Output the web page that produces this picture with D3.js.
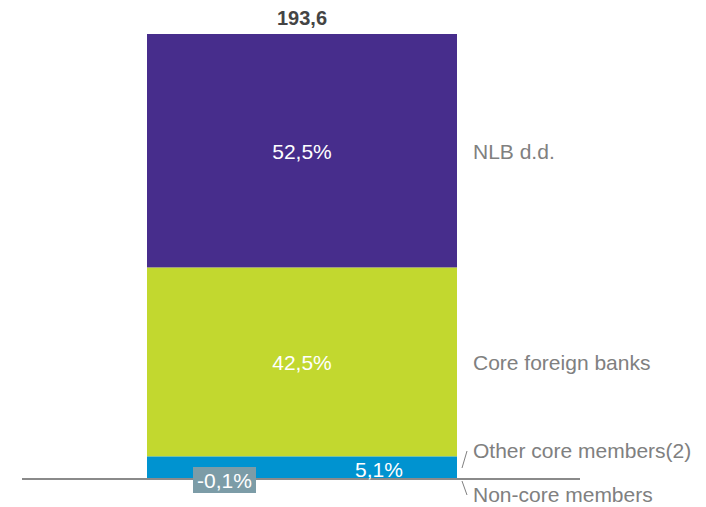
<!DOCTYPE html>
<html>
<head>
<meta charset="utf-8">
<script src="https://cdn.jsdelivr.net/npm/d3@7"></script>
<style>
  body { margin: 0; background: #fff; }
  text { font-family: "Liberation Sans", Arial, sans-serif; }
</style>
</head>
<body>
<svg id="chart"></svg>
<script>
var width = 706,
    height = 507;

// data
var total = "193,6";
var segments = ["Non-core members", "Other core members(2)", "Core foreign banks", "NLB d.d."];
var shares = [-0.1, 5.1, 42.5, 52.5];
var shareLabels = ["-0,1%", "5,1%", "42,5%", "52,5%"];
var colors = ["#7c9ca7", "#0093d0", "#c2d82f", "#472d8c"];

var svg = d3.select("#chart").attr("width", width).attr("height", height);

var x = d3.scaleBand().domain(["total"]).range([147, 457]).padding(0);
var y = d3.scaleLinear().domain([0, d3.sum(shares.filter(function(v) { return v > 0; }))]).range([479, 34]);

var fs = 21;

// stack: positives up from 0, negatives down from 0
var pos = 0, neg = 0;
var rows = shares.map(function(v, i) {
  var y0, y1;
  if (v >= 0) { y0 = pos; y1 = pos + v; pos = y1; }
  else { y1 = neg; y0 = neg + v; neg = y0; }
  return { name: segments[i], value: v, label: shareLabels[i], color: colors[i], y0: y0, y1: y1 };
});

var bars = rows.filter(function(d) { return d.value > 0; });

svg.selectAll("rect.seg").data(bars).enter().append("rect")
  .attr("class", "seg")
  .attr("x", x("total"))
  .attr("width", x.bandwidth())
  .attr("y", function(d) { return y(d.y1); })
  .attr("height", function(d) { return y(d.y0) - y(d.y1); })
  .attr("fill", function(d) { return d.color; });

// baseline
svg.append("line")
  .attr("x1", 22).attr("x2", 580)
  .attr("y1", y(0)).attr("y2", y(0))
  .attr("stroke", "#8a8a8a").attr("stroke-width", 2);

// total on top
svg.append("text")
  .attr("x", x("total") + x.bandwidth() / 2)
  .attr("y", y(pos) - 9)
  .attr("text-anchor", "middle")
  .attr("font-size", 20).attr("font-weight", "bold")
  .attr("fill", "#444")
  .text(total);

// share labels inside the big segments
var big = bars.filter(function(d) { return d.value > 20; });
svg.selectAll("text.share").data(big).enter().append("text")
  .attr("class", "share")
  .attr("x", x("total") + x.bandwidth() / 2)
  .attr("y", function(d) { return (y(d.y0) + y(d.y1)) / 2 + 8; })
  .attr("text-anchor", "middle")
  .attr("font-size", fs).attr("fill", "#fff")
  .text(function(d) { return d.label; });

// small segment: label shifted right
var other = rows[1];
svg.append("text")
  .attr("x", 379)
  .attr("y", y(other.y0) - 2)
  .attr("text-anchor", "middle")
  .attr("font-size", fs).attr("fill", "#fff")
  .text(other.label);

// negative segment: label in a box under the baseline
var nonCore = rows[0];
svg.append("rect")
  .attr("x", 193).attr("y", y(0) - 12)
  .attr("width", 63).attr("height", 26)
  .attr("fill", nonCore.color);
svg.append("text")
  .attr("x", 224.5).attr("y", y(0) + 9)
  .attr("text-anchor", "middle")
  .attr("font-size", fs).attr("fill", "#fff")
  .text(nonCore.label);

// category names on the right
var lx = 473;
var names = [
  { name: rows[3].name, ty: (y(rows[3].y0) + y(rows[3].y1)) / 2 + 8 },
  { name: rows[2].name, ty: (y(rows[2].y0) + y(rows[2].y1)) / 2 + 8 },
  { name: rows[1].name, ty: y(rows[1].y1) + 2 },
  { name: rows[0].name, ty: y(0) + 23 }
];
svg.selectAll("text.name").data(names).enter().append("text")
  .attr("class", "name")
  .attr("x", lx)
  .attr("y", function(d) { return d.ty; })
  .attr("font-size", fs).attr("fill", "#808080")
  .text(function(d) { return d.name; });

// leader ticks
svg.append("line")
  .attr("x1", 462).attr("y1", y(0) - 11)
  .attr("x2", 467).attr("y2", y(0) - 28)
  .attr("stroke", "#808080").attr("stroke-width", 1);
svg.append("line")
  .attr("x1", 462).attr("y1", y(0) + 2)
  .attr("x2", 467).attr("y2", y(0) + 16)
  .attr("stroke", "#808080").attr("stroke-width", 1);
</script>
</body>
</html>
